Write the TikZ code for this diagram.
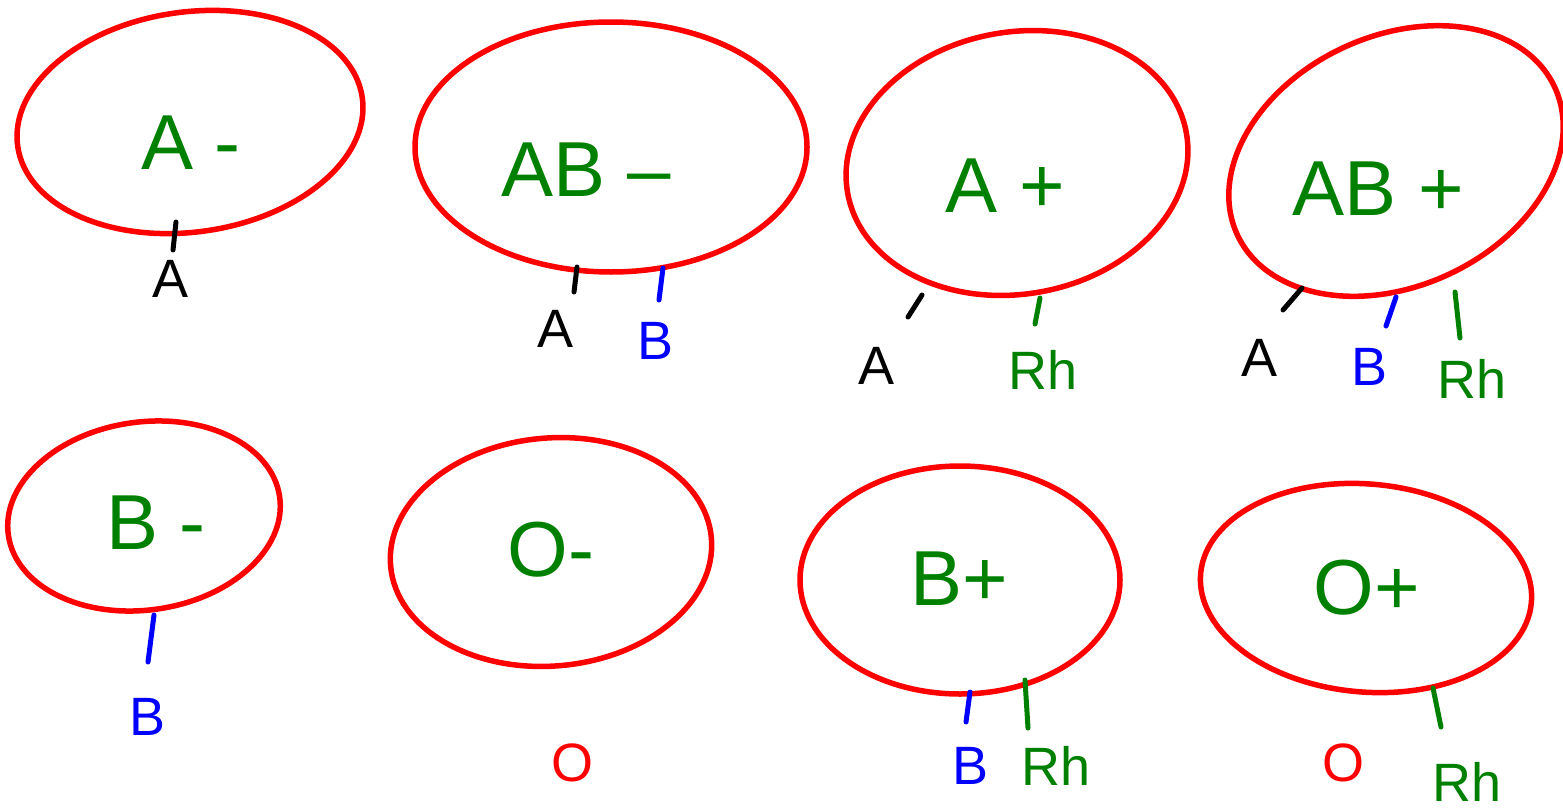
\documentclass[tikz,border=0pt]{standalone}
\usepackage{fontspec}
\setmainfont{Liberation Sans}
\usetikzlibrary{shapes.geometric}
\definecolor{hred}{RGB}{255,0,0}
\definecolor{hgreen}{RGB}{0,128,0}
\definecolor{hblue}{RGB}{0,0,255}
\begin{document}
\begin{tikzpicture}[x=1pt,y=-1pt,
  oval/.style={ellipse, draw=hred, line width=5.5pt, inner sep=0pt},
  intext/.style={text=hgreen, font=\fontsize{78}{78}\selectfont, inner sep=0pt},
  outtext/.style={font=\fontsize{54}{54}\selectfont, inner sep=0pt},
  tickline/.style={line width=5pt, line cap=round},
]
\useasboundingbox (0,0) rectangle (1563,811);

% ellipses
\node[oval, minimum width=348pt, minimum height=220pt, rotate=8] (e1) at (190,122) {};
\node[oval, minimum width=392pt, minimum height=250pt] (e2) at (611,147) {};
\node[oval, minimum width=344pt, minimum height=262pt, rotate=10] (e3) at (1017,163) {};
\node[oval, minimum width=350pt, minimum height=250pt, rotate=25] (e4) at (1396,161) {};
\node[oval, minimum width=274pt, minimum height=188pt, rotate=8] (e5) at (144,516) {};
\node[oval, minimum width=322pt, minimum height=228pt, rotate=5] (e6) at (551,552) {};
\node[oval, minimum width=320pt, minimum height=228pt] (e7) at (960,580) {};
\node[oval, minimum width=332pt, minimum height=208pt, rotate=-5] (e8) at (1366,588) {};

% inner labels
\node[intext] (i1) at (191,143) {A -};
\node[intext] (i2) at (586,170) {AB –};
\node[intext] (i3) at (1005,186) {A +};
\node[intext] (i4) at (1378,189) {AB +};
\node[intext] (i5) at (156,523) {B -};
\node[intext] (i6) at (551,550) {O-};
\node[intext] (i7) at (959,579) {B+};
\node[intext] (i8) at (1367,588) {O+};

% outer labels
\node[outtext, text=black] (o1a) at (171,279) {A};
\node[outtext, text=black] (o2a) at (556,329) {A};
\node[outtext, text=hblue] (o2b) at (655,341) {B};
\node[outtext, text=black] (o3a) at (876,366) {A};
\node[outtext, text=hgreen] (o3r) at (1043,370) {Rh};
\node[outtext, text=black] (o4a) at (1259,358) {A};
\node[outtext, text=hblue] (o4b) at (1369,367) {B};
\node[outtext, text=hgreen] (o4r) at (1472,379) {Rh};
\node[outtext, text=hblue] (o5b) at (148,717) {B};
\node[outtext, text=hred] (o6o) at (572,763) {O};
\node[outtext, text=hblue] (o7b) at (970,766) {B};
\node[outtext, text=hgreen] (o7r) at (1056,766) {Rh};
\node[outtext, text=hred] (o8o) at (1343,763) {O};
\node[outtext, text=hgreen] (o8r) at (1467,782) {Rh};

% tick end points
\coordinate (t1a) at (176,222); \coordinate (t1b) at (173,250);
\coordinate (t2a) at (577,267); \coordinate (t2b) at (574,292);
\coordinate (t2c) at (663,268); \coordinate (t2d) at (659,300);
\coordinate (t3a) at (922,295); \coordinate (t3b) at (908,317);
\coordinate (t3c) at (1040,298); \coordinate (t3d) at (1035,324);
\coordinate (t4a) at (1302,288); \coordinate (t4b) at (1283,310);
\coordinate (t4c) at (1396,297); \coordinate (t4d) at (1386,326);
\coordinate (t4e) at (1455,292); \coordinate (t4f) at (1460,338);
\coordinate (t5a) at (154,615); \coordinate (t5b) at (148,662);
\coordinate (t7a) at (970,692); \coordinate (t7b) at (966,722);
\coordinate (t7c) at (1025,680); \coordinate (t7d) at (1028,728);
\coordinate (t8a) at (1433,688); \coordinate (t8b) at (1441,727);

% ticks
\draw[tickline, black] (t1a) -- (t1b);
\draw[tickline, black] (t2a) -- (t2b);
\draw[tickline, hblue] (t2c) -- (t2d);
\draw[tickline, black] (t3a) -- (t3b);
\draw[tickline, hgreen] (t3c) -- (t3d);
\draw[tickline, black] (t4a) -- (t4b);
\draw[tickline, hblue] (t4c) -- (t4d);
\draw[tickline, hgreen] (t4e) -- (t4f);
\draw[tickline, hblue] (t5a) -- (t5b);
\draw[tickline, hblue] (t7a) -- (t7b);
\draw[tickline, hgreen] (t7c) -- (t7d);
\draw[tickline, hgreen] (t8a) -- (t8b);
\end{tikzpicture}
\end{document}
